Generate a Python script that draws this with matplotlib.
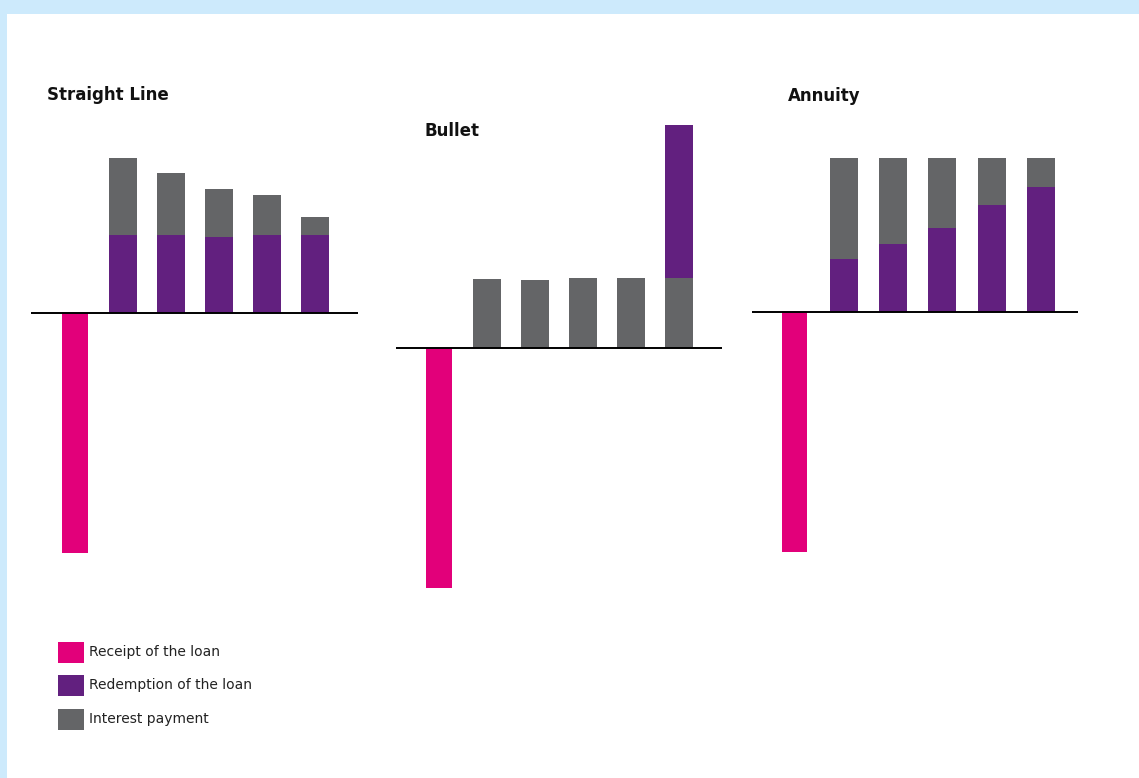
import matplotlib
matplotlib.use("Agg")
import matplotlib.pyplot as plt
from matplotlib.patches import Rectangle

# cash flows per repayment scheme, loan received = 100
periods = [1, 2, 3, 4, 5]
loan_received = 100

straight_redemption = [32.5, 32.5, 31.7, 32.5, 32.5]
straight_interest = [32.1, 25.7, 20.0, 16.7, 7.5]

bullet_interest = [28.5, 28.25, 28.8, 28.8, 29.1]
bullet_redemption = [0, 0, 0, 0, 63.6]

annuity_redemption = [22.1, 28.5, 35.1, 44.5, 52.1]
annuity_interest = [42.1, 35.7, 29.0, 19.7, 12.1]

legend_labels = ["Receipt of the loan", "Redemption of the loan", "Interest payment"]

PINK = "#e2007a"
PURPLE = "#62207f"
GREY = "#646567"
BORDER = "#cdeafc"

W, H = 1139, 778
PX_PER_UNIT = 2.4

fig = plt.figure(figsize=(W / 100, H / 100), dpi=100)
fig.patch.set_facecolor(BORDER)
fig.add_artist(Rectangle((7 / W, 0), 1 - 7 / W, (H - 14) / H,
                         transform=fig.transFigure, facecolor="white",
                         edgecolor="none", zorder=-1))


def panel(left, right, base, x0, step):
    # axes spanning the full height, baseline at pixel row `base`
    ax = fig.add_axes([left / W, 0, (right - left) / W, 1])
    ax.set_xlim((left - x0) / step, (right - x0) / step)
    ax.set_ylim(-(H - base) / PX_PER_UNIT, base / PX_PER_UNIT)
    ax.axis("off")
    ax.bar(0, -loan_received, width=25.5 / step, color=PINK)
    ax.axhline(0, color="black", lw=1.4, zorder=5)
    return ax, 28 / step


# Straight line: fixed redemption, falling interest
ax, w = panel(31, 358, 313, 75, 48)
ax.bar(periods, straight_redemption, width=w, color=PURPLE)
ax.bar(periods, straight_interest, width=w, bottom=straight_redemption, color=GREY)

# Bullet: interest only, full redemption at the end
ax, w = panel(396, 722, 347.5, 438.8, 48)
ax.bar(periods, bullet_interest, width=w, color=GREY)
ax.bar(periods, bullet_redemption, width=w, bottom=bullet_interest, color=PURPLE)

# Annuity: constant payment, growing redemption share
ax, w = panel(752, 1078, 312, 794.5, 49.3)
ax.bar(periods, annuity_redemption, width=w, color=PURPLE)
ax.bar(periods, annuity_interest, width=w, bottom=annuity_redemption, color=GREY)

title_kw = dict(fontsize=12, fontweight="bold", color="#111111", va="baseline")
fig.text(47 / W, 1 - 100 / H, "Straight Line", **title_kw)
fig.text(425 / W, 1 - 136 / H, "Bullet", **title_kw)
fig.text(788 / W, 1 - 101 / H, "Annuity", **title_kw)

# legend swatches
for i, (lab, col) in enumerate(zip(legend_labels, [PINK, PURPLE, GREY])):
    top = 641.5 + i * 33.5
    fig.add_artist(Rectangle((57.5 / W, 1 - (top + 21) / H), 26 / W, 21 / H,
                             transform=fig.transFigure, facecolor=col,
                             edgecolor="none"))
    fig.text(89 / W, 1 - (top + 10.5) / H, lab, fontsize=10,
             color="#222222", va="center")

fig.savefig("out.png", dpi=100, facecolor=fig.get_facecolor())
